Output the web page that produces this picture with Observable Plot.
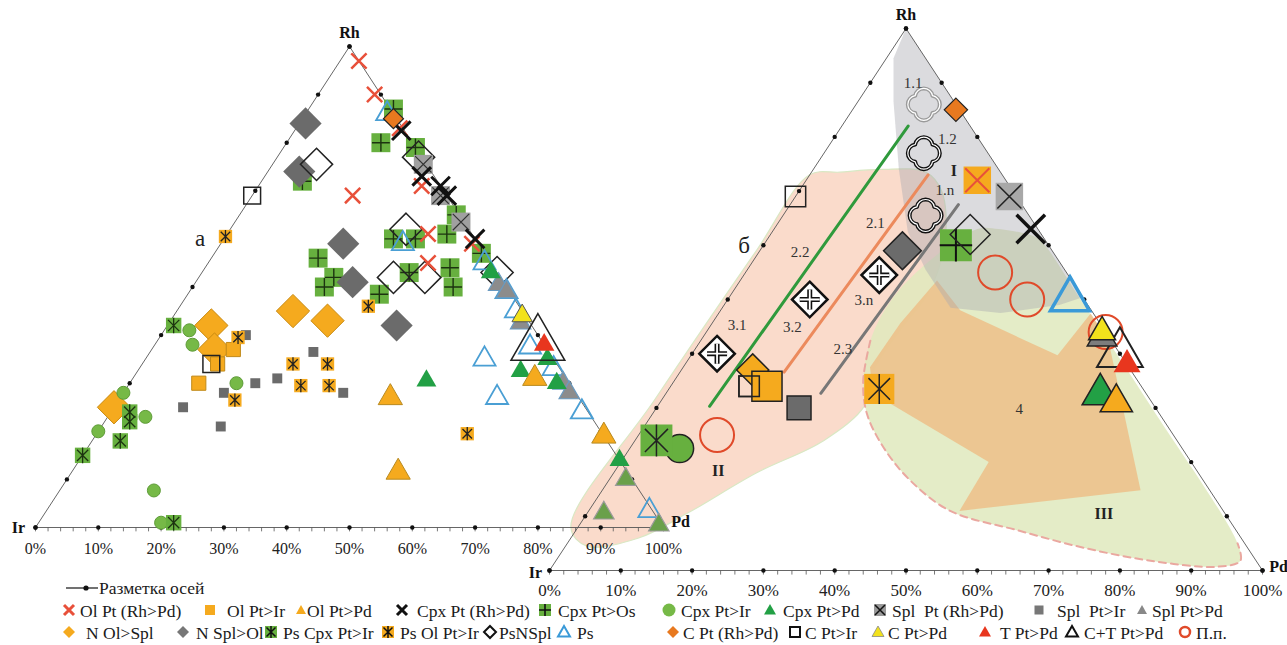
<!DOCTYPE html>
<html><head><meta charset="utf-8">
<script src="https://cdn.jsdelivr.net/npm/d3@7"></script>
<script src="https://cdn.jsdelivr.net/npm/@observablehq/plot@0.6"></script>
<style>
body{margin:0;background:#fff;}
#wrap{position:relative;width:1287px;height:645px;overflow:hidden;font-family:"Liberation Serif","Times New Roman",serif;}
.lg{position:absolute;white-space:nowrap;font-size:17.5px;line-height:18px;color:#1a1a1a;}
.ic{position:absolute;}
</style></head><body><div id="wrap"></div>
<script>
// Every composition is [Pd %, Rh %]; Ir % = 100 - Pd - Rh
// ---------- diagram "a" (left) ----------
const aOlPtRhPd  = [[3,97],[9,90],[16.5,83],[26,71],[16,69],[32,61],[35,55],[40,59]];
const aOlPtIr    = [[13,37],[12,34],[11,30]];
const aOlPtPd    = [[43,27],[52,11.5],[64,31],[81,19]];
const aCpxPtRhPd = [[17,82.5],[25,73],[29,71],[31,69],[40,60]];
const aCpxPtOs   = [[13.5,87],[15,80],[21,79],[34.5,65],[42.5,57],[27,60],[30.5,60],[35,61],[33,53],[39,54],[41.5,50],[30.5,48.5],[21.5,52],[17,56],[21,50],[6.5,72]];
const aCpxPtIr   = [[4,41],[6,38],[17,30],[0,28],[6,23],[0,20],[15,7.7],[19.5,1]];
const aCpxPtPd   = [[47,30.5],[46,53],[64,35],[61,32.5],[68,30],[86,14]];
const aCpxPtPdLo = [[89,3],[99,0.5],[89,10]];
const aSplPtRhPd = [[24,75.5],[30,69],[36,63.5]];
const aSplPtIr   = [[13.5,40],[16,28],[11,25],[19,21],[20,30],[23,31],[26,36.5],[35,28]];
const aSplPtPd   = [[48.5,50.5],[50.5,49],[69,30],[71,28],[56,42.5]];
const aNOlSpl    = [[7,42],[10,37],[18.5,45],[25,43],[0,25]];
const aNSplOl    = [[1,84],[5,74],[19.5,59],[25,51],[36.5,42]];
const aPsCpxIr   = [[1,42],[3,24],[4,22],[4.5,18],[0,15],[21.5,1]];
const aPsOlIr    = [[0,60.5],[12.5,39.5],[18.5,26.5],[24,34],[29.5,34],[27.5,29.5],[32,29.5],[30,46],[59,19.5]];
const aPsNSpl    = [[22.5,77],[7,75.5],[28,62],[31,52],[36,52],[47,53]];
const aPs        = [[13,86],[29,59],[44,55],[50.5,49],[54,45],[60,37.5],[66,33],[75,24],[54,35],[60,27],[96,3.5]];
const aCPtRhPd   = [[14.5,85]];
const aCPtIr     = [[0,69],[11,34]];
const aCPtPd     = [[55.5,44]];
const aTPtPd     = [[62,38]];
const aCTPtPd    = [[61,38]];

// ---------- diagram "б" (right) ----------
const bQuat11    = [[9.5,86]];
const bQuat      = [[14,77],[20,65.5]];
const bCrossDia  = [[19,54.5],[11.5,50],[3.5,40]];
const bCPtRhPd   = [[14.5,85]];
const bOlPtRhPd  = [[24,72]];
const bSplPtRhPd = [[30,69]];
const bCpxPtRhPd = [[36,63]];
const bCPtIr     = [[0,69],[11,34]];
const bPsNSpl    = [[28,62]];
const bCpxPtOs   = [[27,60]];
const bNSplOl    = [[20,59]];
const bNOlSpl    = [[10,37]];
const bOlPtIr    = [[13.5,34]];
const bSplPtIr   = [[20,30]];
const bPsOlIr    = [[29.5,33.5]];
const bPsCpxIr   = [[3,24]];
const bCpxPtIr   = [[7,22.5]];
const bPP        = [[11,25],[35,55],[42,50],[56,44]];
const bPs        = [[48,50]];
const bSplPtPd   = [[56,43]];
const bCPtPd     = [[55.5,44]];
const bCTPtPd    = [[60,40]];
const bTPtPd     = [[62,38]];
const bCpxPtPd   = [[61,32.5]];
const bOlPtPd    = [[64,31]];
// fields
const bFieldI   = [[0,100],[49.6,50.4],[47,49],[39.5,47.5],[32,48.5],[25,55.5],[19,62.5],[12,74],[5,86.5],[1,94.5]];
const bFieldII  = [[0,73],[4,73.5],[9.5,74],[16,73.5],[20,70],[25,61],[27.5,51.5],[27,44.5],[27,37],[29,30.5],[26.5,24],[20,18],[14,10.5],[9.5,6],[3,4.5],[-1,8],[-1,31.5],[-0.5,59]];
const bFieldIII = [[24.5,56.5],[28.5,63],[31.5,63],[37.5,61.5],[39.5,60],[49.5,50],[69.5,30],[94,5],[96,1.8],[93.3,0.7],[83.4,1.8],[72.8,4.2],[62,7.4],[50.7,11],[42.3,16.6],[35.5,22.7],[30,29],[26.5,35],[23.8,42.4],[23,49.8]];
const bDashed   = [[23.8,42.4],[26.5,35],[30,29],[35.5,22.7],[42.3,16.6],[50.7,11],[62,7.4],[72.8,4.2],[83.4,1.8],[93.3,0.7],[96,1.8],[94,5]];
const bField4   = [[26.4,45.6],[27.6,53.5],[33.6,48],[51.4,39.7],[52.2,47.4],[57.2,42.4],[75.5,14.8],[52,11],[51.6,20],[29,32.7],[26.2,37.5]];
const bLine22 = [[9.3,82],[7.3,30.3]];
const bLine21 = [[16.6,73],[14.6,36.6]];
const bLine23 = [[23.6,67.5],[21.7,32.7]];
const bLabels = [["1.1",[6,90]],["1.2",[16,79.6]],["1.n",[20.4,70.1]],["2.1",[13.7,64]],["2.2",[5.8,58.7]],["3.n",[19.2,49.8]],["3.1",[3.7,45.2]],["3.2",[11.6,44.9]],["2.3",[20.7,40.9]],["4",[51,29.8]]];
const bRoman  = [["I",[19.8,73.8]],["II",[14.5,18.3]],["III",[72.5,10.5]]];

const ticks = d3.range(0, 101, 10);
const minor = d3.range(0, 101, 2);
const triangle = [[0,0],[0,100],[100,0],[0,0]];

const SERIF = "Liberation Serif, Times New Roman, serif";
const X = d => d[0] + d[1] / 2, Y = d => d[1];
const dot = (data, o) => Plot.dot(data, {x: X, y: Y, ...o});

const zh = {draw(c, s){ const r = Math.sqrt(s/Math.PI), k = r*0.72;
  c.moveTo(0,-r); c.lineTo(0,r); c.moveTo(-k,-k); c.lineTo(k,k); c.moveTo(k,-k); c.lineTo(-k,k);} };
const quatre = {draw(c, s){ const r = Math.sqrt(s/Math.PI), d = 0.45*r, rl = 0.55*r, phi = 1.4015;
  for (let k = 0; k < 4; k++){ const th = k*Math.PI/2; c.arc(d*Math.cos(th), d*Math.sin(th), rl, th-phi, th+phi); } c.closePath(); } };

const GREEN = "#67b03f", ORANGE = "#f5aa1e", GRAY = "#6b6b6b", BLUE = "#4a9fd4";

function frame(tick, pctDy, pctSize, vl) {
  const edgeDots = ticks.flatMap(t => [[t,0],[0,t],[100-t,t]]);
  return [
    Plot.line(triangle, {x: X, y: Y, stroke: "#555", strokeWidth: 0.9}),
    Plot.link(minor, {x1: d => d, x2: d => d, y1: () => 0, y2: () => -tick, stroke: "#555", strokeWidth: 0.8}),
    Plot.dot(edgeDots, {x: X, y: Y, r: 2.2, fill: "#111"}),
    Plot.text(ticks, {x: d => d, y: () => 0, text: d => d + "%", dy: pctDy, fontSize: pctSize, fontFamily: SERIF, fill: "#222"}),
    Plot.text([[0,0]], {x: X, y: Y, text: () => "Ir", dx: vl.ir[0], dy: vl.ir[1], fontSize: 16, fontWeight: "bold", fontFamily: SERIF, fill: "#111"}),
    Plot.text([[0,100]], {x: X, y: Y, text: () => "Rh", dx: 0, dy: vl.rh, fontSize: 16, fontWeight: "bold", fontFamily: SERIF, fill: "#111"}),
    Plot.text([[100,0]], {x: X, y: Y, text: () => "Pd", dx: vl.pd[0], dy: vl.pd[1], fontSize: 16, fontWeight: "bold", fontFamily: SERIF, fill: "#111"})
  ];
}

// ---------------- right diagram ----------------
const right = Plot.plot({
  width: 1287, height: 645,
  marginLeft: 549, marginRight: 25, marginTop: 28, marginBottom: 75,
  x: {domain: [0, 100], axis: null}, y: {domain: [0, 100], axis: null},
  marks: [
    Plot.line(bFieldII, {x: X, y: Y, fill: "#f9d5c2", fillOpacity: 0.85, stroke: "#d9e8c4", strokeWidth: 1.2, curve: "catmull-rom-closed"}),
    Plot.line(bFieldIII, {x: X, y: Y, fill: "#dfe9bd", fillOpacity: 0.85, stroke: "none", curve: "catmull-rom-closed"}),
    Plot.line(bField4, {x: X, y: Y, fill: "#eebd84", fillOpacity: 0.8, stroke: "none", curve: "linear-closed"}),
    Plot.line(bFieldI, {x: X, y: Y, fill: "#a9a9b0", fillOpacity: 0.42, stroke: "none", curve: "linear-closed"}),
    Plot.line(bDashed, {x: X, y: Y, stroke: "#eaa8a0", strokeWidth: 2, strokeDasharray: "7,5", curve: "catmull-rom"}),
    ...frame(0.75, 20, 17, {ir: [-14, 2], rh: -14, pd: [16, -4]}),
    Plot.line(bLine22, {x: X, y: Y, stroke: "#2f9a3c", strokeWidth: 3}),
    Plot.line(bLine21, {x: X, y: Y, stroke: "#ec8a5c", strokeWidth: 3}),
    Plot.line(bLine23, {x: X, y: Y, stroke: "#777", strokeWidth: 3}),
    dot(bQuat11, {symbol: quatre, r: 16, fill: "none", stroke: "#9a9a9a", strokeWidth: 4}),
    dot(bQuat11, {symbol: quatre, r: 16, fill: "none", stroke: "#fff", strokeWidth: 1.2}),
    dot(bQuat, {symbol: quatre, r: 16, fill: "none", stroke: "#111", strokeWidth: 4}),
    dot(bQuat, {symbol: quatre, r: 16, fill: "none", stroke: "#fff", strokeWidth: 1.2}),
    dot(bCrossDia, {symbol: "diamond2", r: 16, fill: "#fff", stroke: "#111", strokeWidth: 2.5}),
    dot(bCrossDia, {symbol: "plus", r: 6.5, stroke: "#111", strokeWidth: 5}),
    dot(bCrossDia, {symbol: "plus", r: 6.5, stroke: "#fff", strokeWidth: 1.8}),
    dot(bCPtRhPd, {symbol: "diamond2", r: 10.5, fill: "#e8791f", stroke: "#222", strokeWidth: 1.2}),
    dot(bOlPtRhPd, {symbol: "square", r: 15.5, fill: ORANGE, stroke: "none"}),
    dot(bOlPtRhPd, {symbol: "times", r: 11, stroke: "#e8503a", strokeWidth: 2}),
    dot(bSplPtRhPd, {symbol: "square", r: 15.5, fill: "#a8a8a8", stroke: "none"}),
    dot(bSplPtRhPd, {symbol: "times", r: 11, stroke: "#222", strokeWidth: 1.5}),
    dot(bCpxPtRhPd, {symbol: "times", r: 13, stroke: "#111", strokeWidth: 3.5}),
    dot(bCPtIr, {symbol: "square", r: 11.5, fill: "none", stroke: "#222", strokeWidth: 1.5}),
    dot(bCpxPtOs, {symbol: "square", r: 18, fill: GREEN, stroke: "none"}),
    dot(bCpxPtOs, {symbol: "plus", r: 10.5, stroke: "#111", strokeWidth: 2}),
    dot(bPsNSpl, {symbol: "diamond2", r: 18, fill: "none", stroke: "#222", strokeWidth: 1.5}),
    dot(bNSplOl, {symbol: "diamond2", r: 17, fill: GRAY, stroke: "#222", strokeWidth: 1.5}),
    dot(bNOlSpl, {symbol: "diamond2", r: 14.5, fill: ORANGE, stroke: "#222", strokeWidth: 1.5}),
    dot(bOlPtIr, {symbol: "square", r: 17, fill: ORANGE, stroke: "#222", strokeWidth: 1.5}),
    dot(bCPtIr.slice(1), {symbol: "square", r: 11.5, fill: "none", stroke: "#222", strokeWidth: 1.5}),
    dot(bSplPtIr, {symbol: "square", r: 13.5, fill: GRAY, stroke: "#222", strokeWidth: 1.5}),
    dot(bPsOlIr, {symbol: "square", r: 17, fill: ORANGE, stroke: "none"}),
    dot(bPsOlIr, {symbol: zh, r: 15, fill: "none", stroke: "#222", strokeWidth: 1.5}),
    dot(bCpxPtIr, {r: 14, fill: GREEN, stroke: "#222", strokeWidth: 1.5}),
    dot(bPsCpxIr, {symbol: "square", r: 18, fill: GREEN, stroke: "none"}),
    dot(bPsCpxIr, {symbol: zh, r: 16, fill: "none", stroke: "#222", strokeWidth: 1.5}),
    dot(bPP, {r: 17, fill: "none", stroke: "#e04a2a", strokeWidth: 2}),
    dot(bPs, {symbol: "triangle", r: 14.5, fill: "none", stroke: "#3a9ad8", strokeWidth: 3.5}),
    dot(bCTPtPd, {symbol: "triangle", r: 17, fill: "none", stroke: "#222", strokeWidth: 2}),
    dot(bSplPtPd, {symbol: "triangle", r: 11, fill: "#7d7d7d", stroke: "#222", strokeWidth: 1.5}),
    dot(bCPtPd, {symbol: "triangle", r: 10, fill: "#f2e21c", stroke: "#222", strokeWidth: 1.5}),
    dot(bTPtPd, {symbol: "triangle", r: 10, fill: "#e8361e", stroke: "none"}),
    dot(bCpxPtPd, {symbol: "triangle", r: 13.5, fill: "#22a045", stroke: "#222", strokeWidth: 1.5}),
    dot(bOlPtPd, {symbol: "triangle", r: 12, fill: ORANGE, stroke: "#222", strokeWidth: 1.5}),
    Plot.text(bLabels, {x: d => X(d[1]), y: d => Y(d[1]), text: d => d[0], fontSize: 15, fontFamily: SERIF, fill: "#333"}),
    Plot.text(bRoman, {x: d => X(d[1]), y: d => Y(d[1]), text: d => d[0], fontSize: 16, fontWeight: "bold", fontFamily: SERIF, fill: "#222"}),
    Plot.text([[-2.7,60]], {x: X, y: Y, text: () => "б", fontSize: 23, fontFamily: SERIF, fill: "#222"})
  ]
});

// ---------------- left diagram ----------------
const left = Plot.plot({
  width: 1287, height: 645,
  marginLeft: 35, marginRight: 624, marginTop: 46, marginBottom: 118,
  x: {domain: [0, 100], axis: null}, y: {domain: [0, 100], axis: null},
  marks: [
    ...frame(0.8, 21, 16, {ir: [-17, 0], rh: -14, pd: [17, -6]}),
    dot(aCpxPtOs, {symbol: "square", r: 10.7, fill: GREEN, stroke: "none"}),
    dot(aCpxPtOs, {symbol: "plus", r: 5.8, stroke: "#1c3310", strokeWidth: 1.4}),
    dot(aNSplOl, {symbol: "diamond2", r: 14.5, fill: GRAY, stroke: "none"}),
    dot(aNOlSpl, {symbol: "diamond2", r: 15, fill: ORANGE, stroke: "#c98a10", strokeWidth: 1}),
    dot(aPsNSpl, {symbol: "diamond2", r: 14.5, fill: "none", stroke: "#222", strokeWidth: 1.5}),
    dot(aSplPtIr, {symbol: "square", r: 5.6, fill: GRAY, stroke: "none"}),
    dot(aOlPtIr, {symbol: "square", r: 8, fill: ORANGE, stroke: "#c08a1a", strokeWidth: 1}),
    dot(aCPtIr, {symbol: "square", r: 9.5, fill: "none", stroke: "#222", strokeWidth: 1.5}),
    dot(aCpxPtIr, {r: 6.5, fill: "#76b947", stroke: "#5e9c38", strokeWidth: 1}),
    dot(aPsCpxIr, {symbol: "square", r: 8.7, fill: GREEN, stroke: "none"}),
    dot(aPsCpxIr, {symbol: zh, r: 7.8, fill: "none", stroke: "#1c3310", strokeWidth: 1.3}),
    dot(aPsOlIr, {symbol: "square", r: 7.5, fill: ORANGE, stroke: "none"}),
    dot(aPsOlIr, {symbol: zh, r: 6.6, fill: "none", stroke: "#222", strokeWidth: 1.3}),
    dot(aSplPtRhPd, {symbol: "square", r: 10.7, fill: "#a0a0a0", stroke: "none"}),
    dot(aSplPtRhPd, {symbol: "times", r: 7.5, stroke: "#333", strokeWidth: 1.2}),
    dot(aPs, {symbol: "triangle", r: 8.2, fill: "none", stroke: BLUE, strokeWidth: 1.8}),
    dot(aSplPtPd, {symbol: "triangle", r: 7.6, fill: "#8c8c8c", stroke: "#6a9ac0", strokeWidth: 1.2}),
    dot(aCpxPtPd, {symbol: "triangle", r: 7.4, fill: "#22a045", stroke: "none"}),
    dot(aCpxPtPdLo, {symbol: "triangle", r: 7.6, fill: "#6aa04a", stroke: "#9a9a9a", strokeWidth: 1.2}),
    dot(aOlPtPd, {symbol: "triangle", r: 9, fill: ORANGE, stroke: "#b88a20", strokeWidth: 1}),
    dot(aCPtPd, {symbol: "triangle", r: 7.6, fill: "#f2e21c", stroke: "#555", strokeWidth: 1}),
    dot(aTPtPd, {symbol: "triangle", r: 7.6, fill: "#e8361e", stroke: "none"}),
    dot(aCTPtPd, {symbol: "triangle", r: 20, fill: "none", stroke: "#222", strokeWidth: 1.5}),
    dot(aOlPtRhPd, {symbol: "times", r: 7, stroke: "#e8503a", strokeWidth: 2.5}),
    dot(aCpxPtRhPd, {symbol: "times", r: 8.5, stroke: "#111", strokeWidth: 3}),
    dot(aCPtRhPd, {symbol: "diamond2", r: 9, fill: "#e8791f", stroke: "#222", strokeWidth: 1.2}),
    Plot.text([[-3.8,60]], {x: X, y: Y, text: () => "a", fontSize: 23, fontFamily: SERIF, fill: "#222"})
  ]
});

const wrap = document.getElementById("wrap");
for (const svg of [right, left]) {
  svg.style.position = "absolute"; svg.style.left = "0px"; svg.style.top = "0px";
  svg.style.background = "transparent"; svg.style.maxWidth = "none";
  wrap.appendChild(svg);
}

// ---------------- legend ----------------
const tri = 'M0,-6L6,4.5L-6,4.5Z';
const icons = {
  xred: '<path d="M-5,-5L5,5M5,-5L-5,5" stroke="#e8503a" stroke-width="3"/>',
  sqor: '<rect x="-5" y="-5" width="10" height="10" fill="#f5aa1e"/>',
  trior: '<path d="M0,-5L5,4L-5,4Z" fill="#f5aa1e"/>',
  xblk: '<path d="M-5,-5L5,5M5,-5L-5,5" stroke="#111" stroke-width="3"/>',
  sqplus: '<rect x="-6" y="-6" width="12" height="12" fill="#67b03f"/><path d="M0,-6V6M-6,0H6" stroke="#111" stroke-width="1.6"/>',
  circg: '<circle r="6.5" fill="#76b947"/>',
  trig: '<path d="' + tri + '" fill="#22a045"/>',
  sqxgray: '<rect x="-6" y="-6" width="12" height="12" fill="#999"/><path d="M-5,-5L5,5M5,-5L-5,5" stroke="#111" stroke-width="1.5"/>',
  sqgray: '<rect x="-4.5" y="-4.5" width="9" height="9" fill="#777"/>',
  trigray: '<path d="M0,-5L5,4L-5,4Z" fill="#888"/>',
  diaor: '<path d="M0,-6L6,0L0,6L-6,0Z" fill="#f5aa1e"/>',
  diagray: '<path d="M0,-6L6,0L0,6L-6,0Z" fill="#777"/>',
  sqastg: '<rect x="-6" y="-6" width="12" height="12" fill="#67b03f"/><path d="M0,-6V6M-4.5,-4.5L4.5,4.5M4.5,-4.5L-4.5,4.5" stroke="#111" stroke-width="1.5"/>',
  sqastor: '<rect x="-6" y="-6" width="12" height="12" fill="#f5aa1e"/><path d="M0,-6V6M-4.5,-4.5L4.5,4.5M4.5,-4.5L-4.5,4.5" stroke="#111" stroke-width="1.5"/>',
  diaout: '<path d="M0,-6L6,0L0,6L-6,0Z" fill="none" stroke="#111" stroke-width="2"/>',
  tribl: '<path d="' + tri + '" fill="none" stroke="#3a9ad8" stroke-width="2"/>',
  diadk: '<path d="M0,-6L6,0L0,6L-6,0Z" fill="#e8791f"/>',
  sqout: '<rect x="-5" y="-5" width="10" height="10" fill="none" stroke="#111" stroke-width="2"/>',
  triy: '<path d="' + tri + '" fill="#f2e21c" stroke="#888" stroke-width="0.8"/>',
  trir: '<path d="' + tri + '" fill="#e8361e"/>',
  triout: '<path d="' + tri + '" fill="none" stroke="#111" stroke-width="2"/>',
  circr: '<circle r="5" fill="none" stroke="#e04a2a" stroke-width="2.5"/>'
};
const legendRows = [
  {y: 610, items: [[69,"xred",80,"Ol Pt (Rh>Pd)"],[210,"sqor",227,"Ol Pt>Ir"],[301,"trior",307,"Ol Pt>Pd"],[402,"xblk",417,"Cpx Pt (Rh>Pd)"],[545,"sqplus",558,"Cpx Pt>Os"],[669,"circg",681,"Cpx Pt>Ir"],[770,"trig",783,"Cpx Pt>Pd"],[880,"sqxgray",892,"Spl\u00a0 Pt (Rh>Pd)"],[1039,"sqgray",1057,"Spl\u00a0 Pt>Ir"],[1142,"trigray",1152,"Spl Pt>Pd"]]},
  {y: 632, items: [[69,"diaor",86,"N Ol>Spl"],[183,"diagray",196,"N Spl>Ol"],[271,"sqastg",283,"Ps Cpx Pt>Ir"],[388,"sqastor",400,"Ps Ol Pt>Ir"],[490,"diaout",499,"PsNSpl"],[564,"tribl",577,"Ps"],[673,"diadk",683,"C Pt (Rh>Pd)"],[795,"sqout",805,"C Pt>Ir"],[878,"triy",888,"C Pt>Pd"],[985,"trir",1000,"T Pt>Pd"],[1072,"triout",1084,"C+T Pt>Pd"],[1185,"circr",1196,"П.п."]]}
];
function add(html) { wrap.insertAdjacentHTML("beforeend", html); }
add('<svg class="ic" style="left:64px;top:580px" width="36" height="16"><path d="M2,8H34" stroke="#111" stroke-width="1.2"/><circle cx="22" cy="8" r="2.6" fill="#111"/></svg>');
add('<div class="lg" style="left:99px;top:579px">Разметка осей</div>');
for (const row of legendRows) for (const [ix, k, tx, label] of row.items) {
  add(`<svg class="ic" style="left:${ix-8}px;top:${row.y-8}px" width="16" height="16" viewBox="-8 -8 16 16">${icons[k]}</svg>`);
  add(`<div class="lg" style="left:${tx}px;top:${row.y-8}px">${label.replace(/>/g,"&gt;")}</div>`);
}
</script></body></html>
